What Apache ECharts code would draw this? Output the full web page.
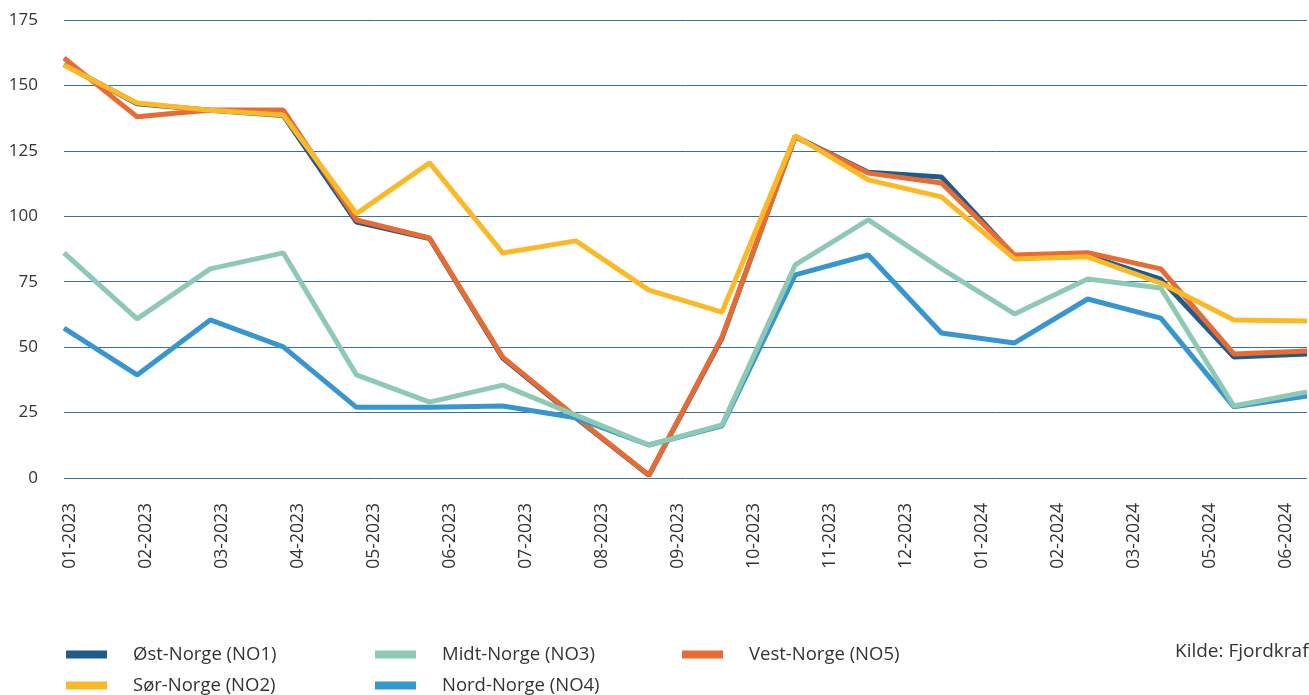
<!DOCTYPE html>
<html>
<head>
<meta charset="utf-8">
<script src="https://cdn.jsdelivr.net/npm/echarts@6/dist/echarts.min.js"></script>
<style>
  html, body { margin: 0; padding: 0; background: #fff; }
  #chart { width: 1309px; height: 695px; }
</style>
</head>
<body>
<div id="chart"></div>
<script>
// months with data (18 points)
const months = ['01-2023', '02-2023', '03-2023', '04-2023', '05-2023', '06-2023', '07-2023', '08-2023', '09-2023',
  '10-2023', '11-2023', '12-2023', '01-2024', '02-2024', '03-2024', '04-2024', '05-2024', '06-2024'];
// labels as printed under the axis (04-2024 is missing in the source)
const tickLabels = ['01-2023', '02-2023', '03-2023', '04-2023', '05-2023', '06-2023', '07-2023', '08-2023', '09-2023',
  '10-2023', '11-2023', '12-2023', '01-2024', '02-2024', '03-2024', '05-2024', '06-2024'];

const no1 = [158, 143, 140.5, 138.5, 97.8, 91.5, 45.8, 23, 1, 53.5, 130.5, 116.8, 115, 84.8, 85, 76, 46.2, 47.4];
const no2 = [157.8, 143.3, 140.5, 138.7, 101, 120.4, 86, 90.6, 71.8, 63.4, 130.8, 113.9, 107.4, 83.7, 84.5, 74.5, 60.4, 60];
const no3 = [86, 60.8, 79.9, 86, 39.4, 29, 35.5, 24, 12.6, 20.3, 81.4, 98.6, 80, 62.7, 76, 72.6, 27.5, 32.9];
const no4 = [57.3, 39.4, 60.4, 50.1, 27, 27, 27.5, 23, 12.6, 19.9, 77.6, 85.2, 55.4, 51.6, 68.4, 61.1, 27.2, 31.3];
const no5 = [160.5, 138, 140.6, 140.6, 98.6, 91.7, 46.2, 23.3, 1.1, 53.9, 130.3, 116.5, 112.7, 85.2, 86.1, 79.9, 47.4, 48.5];

const names = {
  no1: 'Øst-Norge (NO1)',
  no2: 'Sør-Norge (NO2)',
  no3: 'Midt-Norge (NO3)',
  no4: 'Nord-Norge (NO4)',
  no5: 'Vest-Norge (NO5)'
};
const colors = {
  no1: '#1d5c8c',
  no2: '#fbb927',
  no3: '#8dc9b3',
  no4: '#3796cf',
  no5: '#e96b34'
};

const FONT = '"Open Sans", sans-serif';
const chart = echarts.init(document.getElementById('chart'));

const line = (key, data) => ({
  name: names[key],
  type: 'line',
  xAxisIndex: 0,
  yAxisIndex: 0,
  data: data,
  symbol: 'none',
  color: colors[key],
  lineStyle: { width: 5, color: colors[key] },
  animation: false
});

const legendBase = {
  orient: 'vertical',
  top: 644,
  height: 100,
  padding: 0,
  itemWidth: 41,
  itemHeight: 8,
  itemGap: 10,
  icon: 'rect',
  selectedMode: false,
  textStyle: {
    fontFamily: FONT,
    fontSize: 18.5,
    color: '#333',
    lineHeight: 21,
    padding: [0, 0, 0, 21]
  }
};

const option = {
  backgroundColor: '#fff',
  animation: false,
  grid: [
    { left: 64, right: 2, top: 20, bottom: 217 },
    { left: 70, right: 23, top: 20, bottom: 217 }
  ],
  legend: [
    Object.assign({}, legendBase, { left: 66, data: [names.no1, names.no2] }),
    Object.assign({}, legendBase, { left: 375, data: [names.no3, names.no4] }),
    Object.assign({}, legendBase, { left: 682, data: [names.no5] })
  ],
  xAxis: [
    {
      gridIndex: 0,
      type: 'category',
      boundaryGap: false,
      data: months,
      axisLine: { show: false },
      axisTick: { show: false },
      axisLabel: { show: false }
    },
    {
      gridIndex: 1,
      type: 'category',
      boundaryGap: false,
      data: tickLabels,
      axisLine: { show: false },
      axisTick: { show: false },
      axisLabel: {
        interval: 0,
        rotate: 90,
        margin: 25,
        fontFamily: FONT,
        fontSize: 17.5,
        color: '#333'
      }
    }
  ],
  yAxis: [
    {
      gridIndex: 0,
      type: 'value',
      min: 0,
      max: 175,
      interval: 25,
      axisLine: { show: false },
      axisTick: { show: false },
      axisLabel: {
        margin: 26,
        fontFamily: FONT,
        fontSize: 17,
        color: '#333'
      },
      splitLine: { lineStyle: { color: '#3a6e9c', width: 1 } }
    },
    {
      gridIndex: 1,
      type: 'value',
      min: 0,
      max: 175,
      show: false
    }
  ],
  graphic: [
    {
      type: 'text',
      left: 1175,
      top: 642,
      style: {
        text: 'Kilde: Fjordkraft',
        font: '19px "Open Sans", sans-serif',
        fill: '#333'
      }
    }
  ],
  series: [
    line('no1', no1),
    line('no5', no5),
    line('no4', no4),
    line('no3', no3),
    line('no2', no2)
  ]
};

chart.setOption(option);
</script>
</body>
</html>
